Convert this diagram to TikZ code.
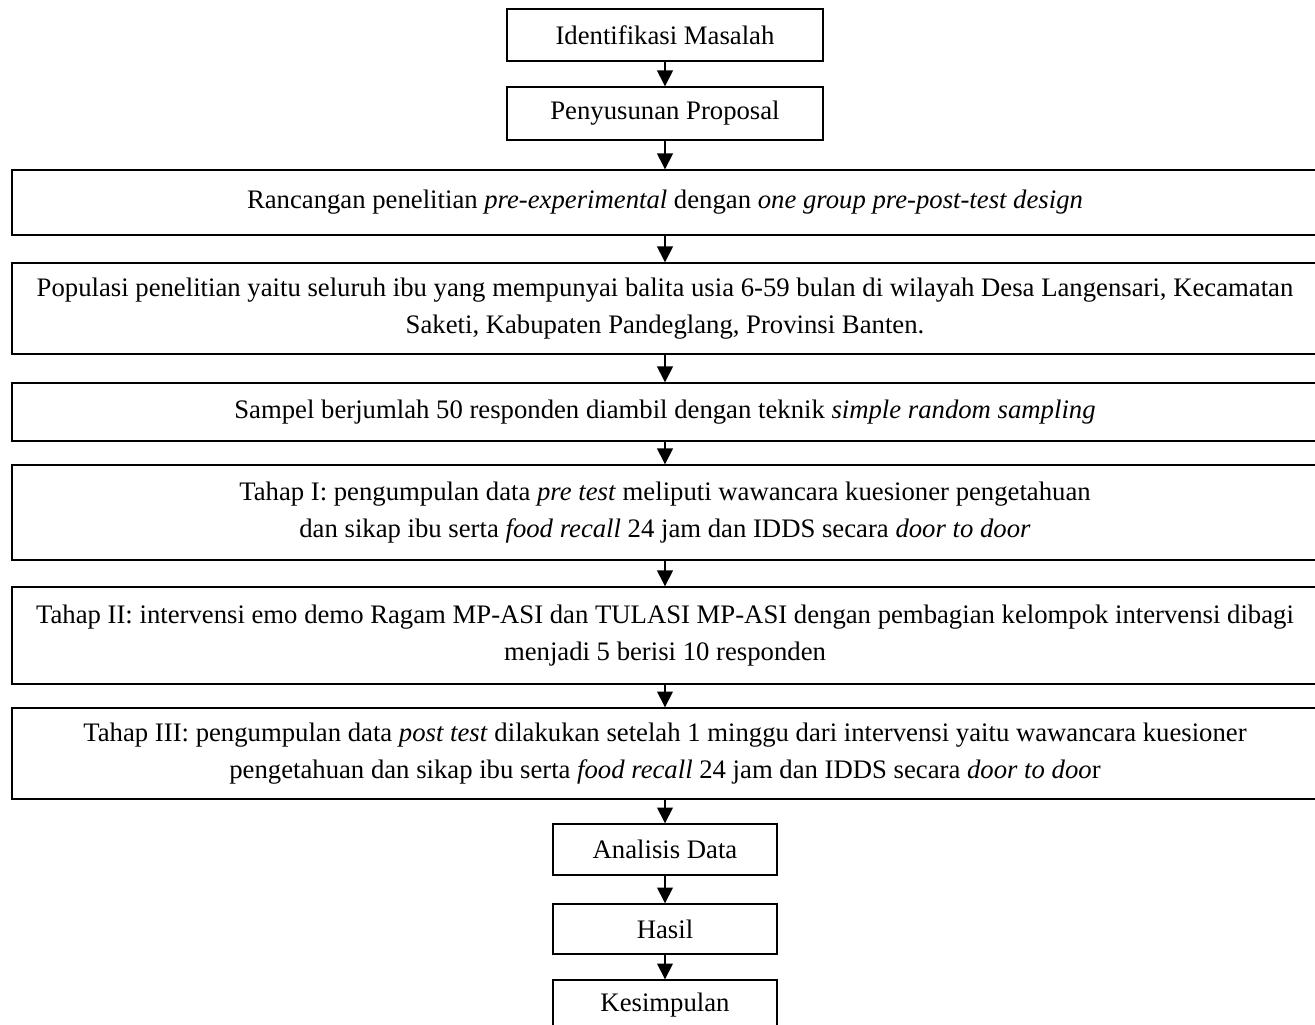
\documentclass[tikz,border=0pt]{standalone}
\usepackage{fontspec}
\setmainfont{Liberation Serif}
\usetikzlibrary{arrows.meta}

\begin{document}
\begin{tikzpicture}[
    kotak/.style={draw, line width=0.8pt, inner sep=0pt, align=center,
                  font=\fontsize{15.2}{21}\selectfont},
    lebar/.style={kotak, minimum width=26.12cm},
    panah/.style={-{Triangle[length=9pt,width=9pt]}, line width=0.8pt}
  ]
    \useasboundingbox (0,0) rectangle (26.3,-20.48);

    % Persiapan
    \node[kotak,minimum width=6.32cm,minimum height=1.04cm] (identifikasi) at (13.3,-0.70) {Identifikasi Masalah};
    \node[kotak,minimum width=6.32cm,minimum height=1.06cm] (proposal) at (13.3,-2.27) {Penyusunan Proposal};

    % Rancangan, populasi dan sampel
    \node[lebar,minimum height=1.30cm] (rancangan) at (13.3,-4.05)
        {Rancangan penelitian \textit{pre-experimental} dengan \textit{one group pre-post-test design}};
    \node[lebar,minimum height=1.82cm] (populasi) at (13.3,-6.17)
        {Populasi penelitian yaitu seluruh ibu yang mempunyai balita usia 6-59 bulan di wilayah Desa Langensari, Kecamatan\\
         Saketi, Kabupaten Pandeglang, Provinsi Banten.};
    \node[lebar,minimum height=1.16cm] (sampel) at (13.3,-8.24)
        {Sampel berjumlah 50 responden diambil dengan teknik \textit{simple random sampling}};

    % Tahapan penelitian
    \node[lebar,minimum height=1.90cm] (tahap1) at (13.3,-10.25)
        {Tahap I: pengumpulan data \textit{pre test} meliputi wawancara kuesioner pengetahuan\\
         dan sikap ibu serta \textit{food recall} 24 jam dan IDDS secara \textit{door to door}};
    \node[lebar,minimum height=1.94cm] (tahap2) at (13.3,-12.71)
        {Tahap II: intervensi emo demo Ragam MP-ASI dan TULASI MP-ASI dengan pembagian kelompok intervensi dibagi\\
         menjadi 5 berisi 10 responden};
    \node[lebar,minimum height=1.82cm] (tahap3) at (13.3,-15.07)
        {Tahap III: pengumpulan data \textit{post test} dilakukan setelah 1 minggu dari intervensi yaitu wawancara kuesioner\\
         pengetahuan dan sikap ibu serta \textit{food recall} 24 jam dan IDDS secara \textit{door to doo}r};

    % Akhir
    \node[kotak,minimum width=4.48cm,minimum height=1.02cm] (analisis) at (13.3,-16.99) {Analisis Data};
    \node[kotak,minimum width=4.48cm,minimum height=1.00cm] (hasil) at (13.3,-18.58) {Hasil};
    \node[kotak,minimum width=4.48cm,minimum height=1.00cm] (simpulan) at (13.3,-20.10) {Kesimpulan};

    % Alur
    \draw[panah] (identifikasi) -- (proposal);
    \draw[panah] (proposal) -- (rancangan);
    \draw[panah] (rancangan) -- (populasi);
    \draw[panah] (populasi) -- (sampel);
    \draw[panah] (sampel) -- (tahap1);
    \draw[panah] (tahap1) -- (tahap2);
    \draw[panah] (tahap2) -- (tahap3);
    \draw[panah] (tahap3) -- (analisis);
    \draw[panah] (analisis) -- (hasil);
    \draw[panah] (hasil) -- (simpulan);
\end{tikzpicture}
\end{document}
